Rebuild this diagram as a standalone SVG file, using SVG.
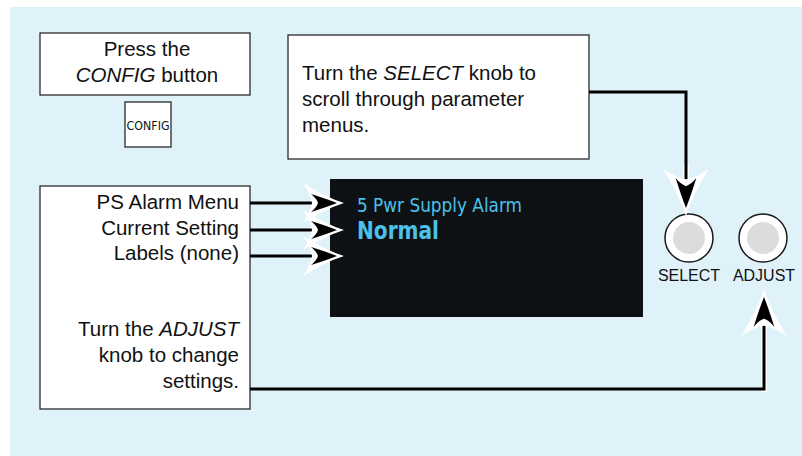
<svg xmlns="http://www.w3.org/2000/svg" xmlns:xlink="http://www.w3.org/1999/xlink" width="802" height="456" viewBox="0 0 802 456">
<style>
.box{fill:#fff;stroke:#2a2a2a;stroke-width:1.3}
.t{font-family:"Liberation Sans",Arial,sans-serif;font-size:20.5px;fill:#111}
.i{font-style:italic}
.lbl{font-family:"Liberation Sans",Arial,sans-serif;font-size:16px;fill:#111;text-anchor:middle}
.halo{fill:none;stroke:#fff;stroke-width:6}
.ln{fill:none;stroke:#000;stroke-width:3}
.lcd{font-family:"DejaVu Sans Condensed","DejaVu Sans",sans-serif;font-stretch:condensed;fill:#4cc0e8}
.knob{fill:#fff;stroke:#1a1a1a;stroke-width:1.5}
.inner{fill:#dcdcdd}
</style>
<defs>
<g id="ah">
<path d="M7,0 Q-12,-6 -34,-20 Q-26,-8 -25,0 Q-26,8 -34,20 Q-12,6 7,0 Z" fill="#fff"/>
<path d="M0,0 Q-10,-4 -26,-9 Q-20,-4 -19,0 Q-20,4 -26,9 Q-10,4 0,0 Z" fill="#000"/>
</g>
</defs>
<rect x="10" y="7" width="792" height="449" fill="#dff2fa"/>

<g id="press-config">
<rect class="box" x="40" y="33" width="210" height="62"/>
<text class="t" x="147" y="56" text-anchor="middle">Press the</text>
<text class="t" x="147" y="82" text-anchor="middle"><tspan class="i">CONFIG</tspan> button</text>
</g>

<g id="config-button">
<rect class="box" x="125" y="102" width="46" height="45"/>
<text x="148" y="130" text-anchor="middle" font-family="'DejaVu Sans Condensed','DejaVu Sans',sans-serif" font-stretch="condensed" font-size="11.5" fill="#111" textLength="43" lengthAdjust="spacingAndGlyphs">CONFIG</text>
</g>

<g id="select-note">
<rect class="box" x="288" y="35" width="301" height="124"/>
<text class="t" x="302" y="80">Turn the <tspan class="i">SELECT</tspan> knob to</text>
<text class="t" x="302" y="106">scroll through parameter</text>
<text class="t" x="302" y="132">menus.</text>
</g>

<g id="menu-labels">
<rect class="box" x="40" y="186" width="210" height="223"/>
<text class="t" x="239" y="209" text-anchor="end">PS Alarm Menu</text>
<text class="t" x="239" y="234.5" text-anchor="end">Current Setting</text>
<text class="t" x="239" y="260" text-anchor="end">Labels (none)</text>
<text class="t" x="239" y="336" text-anchor="end">Turn the <tspan class="i">ADJUST</tspan></text>
<text class="t" x="239" y="362" text-anchor="end">knob to change</text>
<text class="t" x="239" y="388" text-anchor="end">settings.</text>
</g>

<g id="display">
<rect x="330" y="179" width="313" height="138" fill="#0d1114"/>
<text class="lcd" x="357" y="212" font-size="19.5" textLength="165" lengthAdjust="spacingAndGlyphs">5 Pwr Supply Alarm</text>
<text class="lcd" x="357" y="239" font-size="24" font-weight="bold" textLength="82" lengthAdjust="spacingAndGlyphs">Normal</text>
</g>

<g id="select-knob">
<circle class="knob" cx="689" cy="238" r="24"/>
<circle class="inner" cx="689" cy="238" r="16"/>
<text class="lbl" x="689" y="281">SELECT</text>
</g>

<g id="adjust-knob">
<circle class="knob" cx="763" cy="238" r="24"/>
<circle class="inner" cx="763" cy="238" r="16"/>
<text class="lbl" x="764" y="281">ADJUST</text>
</g>

<g id="connectors">
<path class="halo" d="M310,203 H318 M310,230 H318 M310,256 H318 M686,165 V190 M764,310 V392"/>
<path class="ln" d="M250,203 H320"/>
<path class="ln" d="M250,230 H320"/>
<path class="ln" d="M250,256 H320"/>
<path class="ln" d="M589,92 H686 V190"/>
<path class="ln" d="M250,389 H764 V314"/>
<use xlink:href="#ah" transform="translate(337,203)"/>
<use xlink:href="#ah" transform="translate(337,230)"/>
<use xlink:href="#ah" transform="translate(337,256)"/>
<use xlink:href="#ah" transform="translate(686,208) rotate(90) scale(1.15)"/>
<use xlink:href="#ah" transform="translate(764,297) rotate(-90) scale(1.15)"/>
</g>
</svg>
